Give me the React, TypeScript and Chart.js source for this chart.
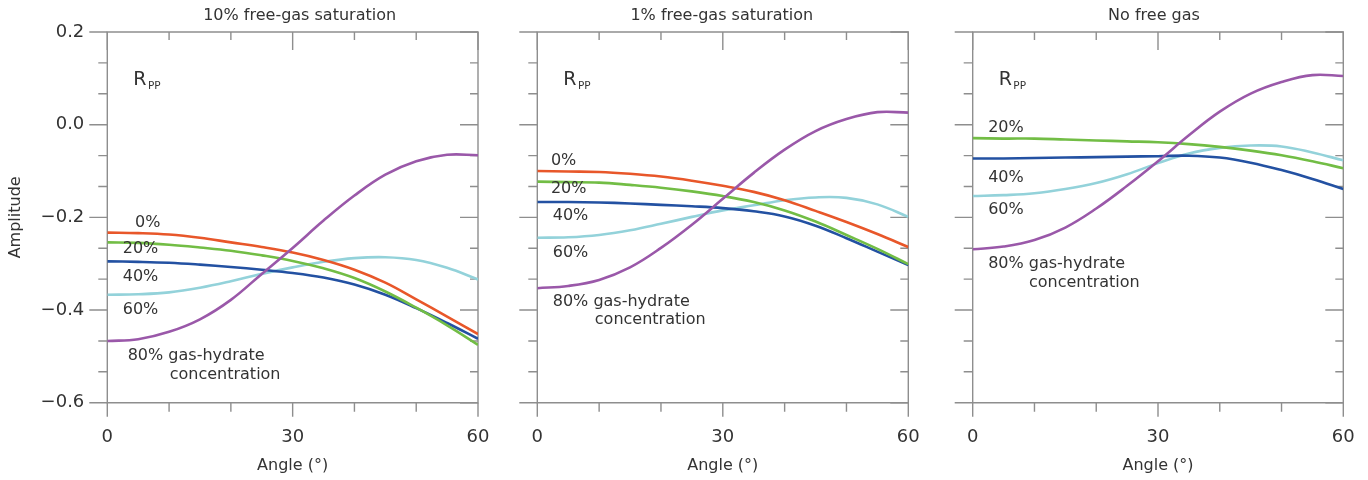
import React, { useEffect, useRef } from "react";
import { Chart, registerables } from "chart.js";

Chart.register(...registerables);

// ---------- data ----------
const angles = [0, 5, 10, 15, 20, 25, 30, 35, 40, 45, 50, 55, 60];

const panelTitles = ["10% free-gas saturation", "1% free-gas saturation", "No free gas"];
const hydrateLabels = ["0%", "20%", "40%", "60%", "80%"];

// 10% free-gas saturation
const free10Hyd0 = [-0.233, -0.234, -0.237, -0.244, -0.254, -0.264, -0.276, -0.292, -0.313, -0.341, -0.377, -0.414, -0.452];
const free10Hyd20 = [-0.254, -0.255, -0.259, -0.265, -0.272, -0.282, -0.294, -0.31, -0.331, -0.36, -0.395, -0.433, -0.475];
const free10Hyd40 = [-0.295, -0.296, -0.298, -0.302, -0.307, -0.313, -0.32, -0.33, -0.345, -0.367, -0.396, -0.428, -0.462];
const free10Hyd60 = [-0.367, -0.366, -0.362, -0.352, -0.338, -0.322, -0.308, -0.296, -0.288, -0.286, -0.292, -0.309, -0.334];
const free10Hyd80 = [-0.467, -0.463, -0.447, -0.42, -0.378, -0.322, -0.266, -0.207, -0.153, -0.108, -0.079, -0.065, -0.066];

// 1% free-gas saturation
const free1Hyd0 = [-0.1, -0.101, -0.102, -0.106, -0.112, -0.121, -0.132, -0.145, -0.163, -0.186, -0.21, -0.236, -0.264];
const free1Hyd20 = [-0.123, -0.124, -0.125, -0.13, -0.136, -0.144, -0.154, -0.167, -0.185, -0.209, -0.238, -0.268, -0.301];
const free1Hyd40 = [-0.167, -0.167, -0.168, -0.17, -0.173, -0.176, -0.18, -0.187, -0.198, -0.218, -0.245, -0.274, -0.303];
const free1Hyd60 = [-0.244, -0.243, -0.238, -0.228, -0.214, -0.199, -0.185, -0.174, -0.163, -0.157, -0.158, -0.172, -0.199];
const free1Hyd80 = [-0.353, -0.348, -0.335, -0.308, -0.266, -0.216, -0.16, -0.104, -0.054, -0.014, 0.012, 0.027, 0.026];

// No free gas
const noGasHyd20 = [-0.029, -0.03, -0.03, -0.032, -0.034, -0.036, -0.038, -0.042, -0.048, -0.056, -0.066, -0.079, -0.094];
const noGasHyd40 = [-0.073, -0.073, -0.072, -0.071, -0.07, -0.069, -0.068, -0.067, -0.071, -0.082, -0.098, -0.117, -0.139];
const noGasHyd60 = [-0.154, -0.152, -0.148, -0.139, -0.126, -0.107, -0.083, -0.062, -0.05, -0.045, -0.047, -0.06, -0.077];
const noGasHyd80 = [-0.269, -0.263, -0.249, -0.222, -0.181, -0.132, -0.079, -0.023, 0.028, 0.067, 0.092, 0.107, 0.105];

// axis ticks
const xMajorTicks = [0, 30, 60];
const xMinorTicks = [10, 20, 40, 50];
const yMajorTicks = [-0.6, -0.4, -0.2, 0, 0.2];
const yMinorTicks = [-0.5333, -0.4667, -0.3333, -0.2667, -0.1333, -0.0667, 0.0667, 0.1333];

// ---------- styles ----------
const FONT = '"DejaVu Sans", "Noto Sans", sans-serif';
const TEXT = "#333333";
const FRAME = "#8e8e8e";
const COLORS: Record<string, string> = {
  "0%": "#e8572a",
  "20%": "#72bd45",
  "40%": "#2351a2",
  "60%": "#93d2da",
  "80%": "#9a58a9",
};

type Series = { label: string; values: number[] };
type Note = { text: string; x: number; y: number };

const panels: {
  title: string;
  titleShift: number;
  series: Series[];
  notes: Note[];
  canvasLeft: number;
  canvasWidth: number;
  yWidth: number;
  plotRight: number;
  showY: boolean;
}[] = [
  {
    title: panelTitles[0],
    titleShift: 7,
    series: [
      { label: hydrateLabels[4], values: free10Hyd80 },
      { label: hydrateLabels[0], values: free10Hyd0 },
      { label: hydrateLabels[1], values: free10Hyd20 },
      { label: hydrateLabels[2], values: free10Hyd40 },
      { label: hydrateLabels[3], values: free10Hyd60 },
    ],
    notes: [
      { text: "0%", x: 4.5, y: -0.221 },
      { text: "20%", x: 2.5, y: -0.277 },
      { text: "40%", x: 2.5, y: -0.337 },
      { text: "60%", x: 2.5, y: -0.408 },
      { text: "80% gas-hydrate", x: 3.3, y: -0.508 },
      { text: "concentration", x: 10.1, y: -0.549 },
    ],
    canvasLeft: 0,
    canvasWidth: 500,
    yWidth: 107.3,
    plotRight: 478,
    showY: true,
  },
  {
    title: panelTitles[1],
    titleShift: -1,
    series: [
      { label: hydrateLabels[4], values: free1Hyd80 },
      { label: hydrateLabels[0], values: free1Hyd0 },
      { label: hydrateLabels[1], values: free1Hyd20 },
      { label: hydrateLabels[2], values: free1Hyd40 },
      { label: hydrateLabels[3], values: free1Hyd60 },
    ],
    notes: [
      { text: "0%", x: 2.2, y: -0.087 },
      { text: "20%", x: 2.2, y: -0.147 },
      { text: "40%", x: 2.5, y: -0.206 },
      { text: "60%", x: 2.5, y: -0.285 },
      { text: "80% gas-hydrate", x: 2.5, y: -0.391 },
      { text: "concentration", x: 9.3, y: -0.43 },
    ],
    canvasLeft: 500,
    canvasWidth: 430,
    yWidth: 37.3,
    plotRight: 908.3,
    showY: false,
  },
  {
    title: panelTitles[2],
    titleShift: -4,
    series: [
      { label: hydrateLabels[4], values: noGasHyd80 },
      { label: hydrateLabels[1], values: noGasHyd20 },
      { label: hydrateLabels[2], values: noGasHyd40 },
      { label: hydrateLabels[3], values: noGasHyd60 },
    ],
    notes: [
      { text: "20%", x: 2.5, y: -0.015 },
      { text: "40%", x: 2.5, y: -0.123 },
      { text: "60%", x: 2.5, y: -0.193 },
      { text: "80% gas-hydrate", x: 2.5, y: -0.309 },
      { text: "concentration", x: 9.1, y: -0.35 },
    ],
    canvasLeft: 930,
    canvasWidth: 438,
    yWidth: 42.7,
    plotRight: 1343.3,
    showY: false,
  },
];

const fmtY = (v: number) => {
  if (Math.abs(v) < 1e-9) return "0.0";
  return v < 0 ? "\u2212" + Math.abs(v).toFixed(1) : v.toFixed(1);
};

function makeFramePlugin() {
  return {
    id: "frameTicks",
    beforeDatasetsDraw(chart: any) {
      const { ctx, chartArea } = chart;
      const { left, right, top, bottom } = chartArea;
      const xs = chart.scales.x;
      const ys = chart.scales.y;
      ctx.save();
      ctx.strokeStyle = FRAME;
      ctx.lineWidth = 1.4;
      ctx.beginPath();
      ctx.rect(left, top, right - left, bottom - top);
      ctx.stroke();
      ctx.beginPath();
      yMajorTicks.forEach((v) => {
        const py = ys.getPixelForValue(v);
        ctx.moveTo(left - 18, py);
        ctx.lineTo(left, py);
        ctx.moveTo(right, py);
        ctx.lineTo(right - 18, py);
      });
      yMinorTicks.forEach((v) => {
        const py = ys.getPixelForValue(v);
        ctx.moveTo(left - 9, py);
        ctx.lineTo(left, py);
        ctx.moveTo(right, py);
        ctx.lineTo(right - 8, py);
      });
      xMajorTicks.forEach((v) => {
        const px = xs.getPixelForValue(v);
        ctx.moveTo(px, bottom);
        ctx.lineTo(px, bottom + 14);
        ctx.moveTo(px, top);
        ctx.lineTo(px, top + 18);
      });
      xMinorTicks.forEach((v) => {
        const px = xs.getPixelForValue(v);
        ctx.moveTo(px, bottom);
        ctx.lineTo(px, bottom + 9);
        ctx.moveTo(px, top);
        ctx.lineTo(px, top + 8);
      });
      ctx.stroke();
      ctx.restore();
    },
  };
}

function makeTextPlugin(panel: (typeof panels)[number]) {
  return {
    id: "panelText",
    afterDatasetsDraw(chart: any) {
      const { ctx, chartArea } = chart;
      const xs = chart.scales.x;
      const ys = chart.scales.y;
      ctx.save();
      ctx.fillStyle = TEXT;
      ctx.textBaseline = "alphabetic";
      // panel title
      ctx.textAlign = "center";
      ctx.font = `16px ${FONT}`;
      ctx.fillText(panel.title, (chartArea.left + chartArea.right) / 2 + panel.titleShift, 20);
      // R_PP
      ctx.textAlign = "left";
      const rx = xs.getPixelForValue(4.2);
      const ry = ys.getPixelForValue(0.0857);
      ctx.font = `19px ${FONT}`;
      ctx.fillText("R", rx, ry);
      const rw = ctx.measureText("R").width;
      ctx.font = `10.5px ${FONT}`;
      ctx.fillText("PP", rx + rw + 1.5, ry + 4);
      // curve labels
      ctx.font = `16px ${FONT}`;
      panel.notes.forEach((n) => {
        ctx.fillText(n.text, xs.getPixelForValue(n.x), ys.getPixelForValue(n.y));
      });
      ctx.restore();
    },
  };
}

function Panel({ idx }: { idx: number }) {
  const ref = useRef<HTMLCanvasElement | null>(null);
  const panel = panels[idx];
  useEffect(() => {
    if (!ref.current) return;
    const padRight = panel.canvasWidth - (panel.plotRight - panel.canvasLeft);
    const chart = new Chart(ref.current, {
      type: "line",
      data: {
        datasets: panel.series.map((s) => ({
          label: s.label,
          data: angles.map((a, i) => ({ x: a, y: s.values[i] })),
          borderColor: COLORS[s.label],
          backgroundColor: COLORS[s.label],
          borderWidth: 2.6,
          pointRadius: 0,
          fill: false,
          tension: 0.4,
        })),
      },
      options: {
        responsive: false,
        animation: false,
        events: [],
        layout: { padding: { left: 0, right: padRight, top: 32, bottom: 0 } },
        plugins: {
          legend: { display: false },
          title: { display: false },
          tooltip: { enabled: false },
        },
        scales: {
          x: {
            type: "linear",
            min: 0,
            max: 60,
            afterBuildTicks: (s: any) => {
              s.ticks = xMajorTicks.map((v) => ({ value: v }));
            },
            grid: { display: false, drawTicks: true, tickLength: 23.5 },
            border: { display: false },
            ticks: {
              font: { family: FONT, size: 18 },
              color: TEXT,
              padding: 0,
              maxRotation: 0,
              autoSkip: false,
            },
            title: {
              display: true,
              text: "Angle (\u00b0)",
              font: { family: FONT, size: 16 },
              color: TEXT,
              padding: { top: 0, bottom: 4.4 },
            },
            afterFit: (s: any) => {
              s.height = 77.3;
            },
          },
          y: {
            type: "linear",
            min: -0.6,
            max: 0.2,
            afterBuildTicks: (s: any) => {
              s.ticks = yMajorTicks.map((v) => ({ value: v }));
            },
            grid: { display: false, drawTicks: true, tickLength: 23 },
            border: { display: false },
            ticks: {
              display: panel.showY,
              font: { family: FONT, size: 18 },
              color: TEXT,
              padding: 0,
              callback: (v: any) => fmtY(Number(v)),
            },
            title: {
              display: panel.showY,
              text: "Amplitude",
              font: { family: FONT, size: 16 },
              color: TEXT,
              padding: { top: 6.4, bottom: 0 },
            },
            afterFit: (s: any) => {
              s.width = panel.yWidth;
            },
          },
        },
      },
      plugins: [makeFramePlugin(), makeTextPlugin(panel)],
    } as any);
    return () => chart.destroy();
  }, [idx]);
  return (
    <canvas
      ref={ref}
      width={panel.canvasWidth}
      height={480}
      style={{ position: "absolute", left: panel.canvasLeft, top: 0 }}
    />
  );
}

export default function App() {
  return (
    <div
      style={{
        position: "absolute",
        left: 0,
        top: 0,
        width: 1368,
        height: 480,
        background: "#ffffff",
        overflow: "hidden",
      }}
    >
      {panels.map((_, i) => (
        <Panel key={i} idx={i} />
      ))}
    </div>
  );
}
